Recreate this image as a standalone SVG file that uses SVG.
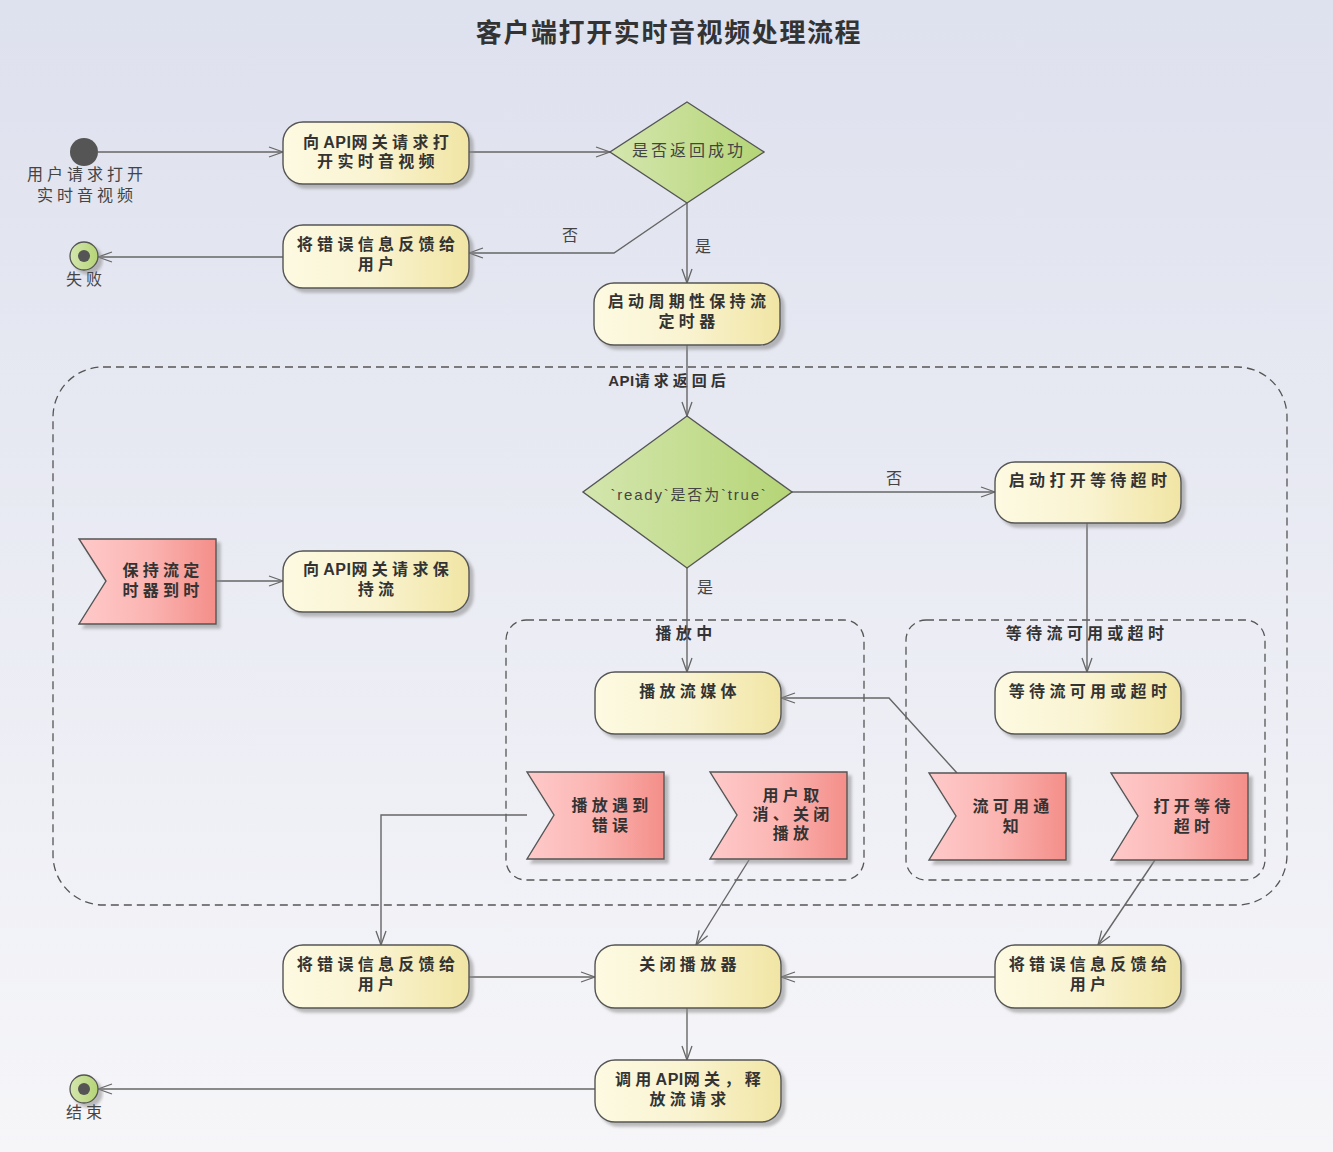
<svg xmlns="http://www.w3.org/2000/svg" width="1333" height="1152" viewBox="0 0 1333 1152">
<defs>
<linearGradient id="bg" x1="0" y1="0" x2="0" y2="1"><stop offset="0" stop-color="#dee1ee"/><stop offset="1" stop-color="#f6f6f9"/></linearGradient>
<linearGradient id="act" x1="0" y1="0" x2="1" y2="0"><stop offset="0" stop-color="#fdfae2"/><stop offset="0.5" stop-color="#f9f3d0"/><stop offset="1" stop-color="#f1e5a4"/></linearGradient>
<linearGradient id="evt" x1="0" y1="0" x2="1" y2="0"><stop offset="0" stop-color="#fecaca"/><stop offset="0.5" stop-color="#fbb5b2"/><stop offset="1" stop-color="#f48e89"/></linearGradient>
<linearGradient id="dia" x1="0" y1="0" x2="1" y2="0"><stop offset="0" stop-color="#d4e6ae"/><stop offset="1" stop-color="#b5d576"/></linearGradient>
<linearGradient id="fin" x1="0" y1="0" x2="1" y2="0"><stop offset="0" stop-color="#d4e6ae"/><stop offset="1" stop-color="#b5d576"/></linearGradient>
<filter id="sh" x="-10%" y="-10%" width="130%" height="130%"><feDropShadow dx="4" dy="4" stdDeviation="1.5" flood-color="#888" flood-opacity="0.55"/></filter>
<marker id="arr" markerWidth="16" markerHeight="12" refX="15" refY="6" orient="auto" markerUnits="userSpaceOnUse"><path d="M1,1 L15,6 L1,11" fill="none" stroke="#666" stroke-width="1.3"/></marker>
</defs>
<style>
.a{fill:url(#act);stroke:#555;stroke-width:1.4;filter:url(#sh)}
.e{fill:url(#evt);stroke:#555;stroke-width:1.4;filter:url(#sh)}
.d{fill:url(#dia);stroke:#555;stroke-width:1.4}
.g{fill:none;stroke:#555;stroke-width:1.3;stroke-dasharray:8,5}
.c{fill:none;stroke:#666;stroke-width:1.4;marker-end:url(#arr)}
.t{font-family:"Liberation Sans","Noto Sans CJK SC",sans-serif;font-size:16px;font-weight:bold;fill:#333;text-anchor:middle;letter-spacing:4.3px}
.n{font-family:"Liberation Sans","Noto Sans CJK SC",sans-serif;font-size:16px;fill:#444;text-anchor:middle;letter-spacing:4px}
.l{font-family:"Liberation Sans","Noto Sans CJK SC",sans-serif;font-size:16px;fill:#444;text-anchor:middle}
.k{letter-spacing:0.5px}
</style>
<rect width="1333" height="1152" fill="url(#bg)"/>
<text x="669" y="42" font-family="'Liberation Sans','Noto Sans CJK SC',sans-serif" font-size="26" font-weight="bold" fill="#333" text-anchor="middle" letter-spacing="1.6">客户端打开实时音视频处理流程</text>

<g id="groups">
<rect id="grp-api" class="g" x="53" y="367" width="1234" height="538" rx="50"/>
<text class="t" x="669" y="386" style="font-size:15px;letter-spacing:4px"><tspan class="k">API</tspan>请求返回后</text>
<rect id="grp-play" class="g" x="506" y="620" width="358" height="260" rx="20"/>
<text class="t" x="686" y="639">播放中</text>
<rect id="grp-wait" class="g" x="906" y="620" width="359" height="260" rx="20"/>
<text class="t" x="1087" y="639">等待流可用或超时</text>
</g>

<g id="connectors">
<line class="c" x1="98" y1="152" x2="283" y2="152"/>
<line class="c" x1="469" y1="152" x2="610" y2="152"/>
<polyline class="c" points="687,203 614,253 469,253"/>
<text class="l" x="570" y="241">否</text>
<line class="c" x1="687" y1="203" x2="687" y2="283"/>
<text class="l" x="703" y="252">是</text>
<line class="c" x1="283" y1="257" x2="98" y2="257"/>
<line class="c" x1="687" y1="345" x2="687" y2="416"/>
<line class="c" x1="792" y1="492" x2="995" y2="492"/>
<text class="l" x="894" y="484">否</text>
<line class="c" x1="687" y1="568" x2="687" y2="672"/>
<text class="l" x="705" y="593">是</text>
<line class="c" x1="216" y1="581" x2="283" y2="581"/>
<line class="c" x1="1087" y1="523" x2="1087" y2="672"/>
<polyline class="c" points="957,773 889,698 781,698"/>
<polyline class="c" points="527,815 381,815 381,945"/>
<line class="c" x1="749" y1="860" x2="696" y2="945"/>
<line class="c" x1="1155" y1="860" x2="1098" y2="945"/>
<line class="c" x1="469" y1="977" x2="595" y2="977"/>
<line class="c" x1="995" y1="977" x2="781" y2="977"/>
<line class="c" x1="687" y1="1008" x2="687" y2="1060"/>
<line class="c" x1="595" y1="1089" x2="98" y2="1089"/>
</g>

<g id="start">
<circle cx="84" cy="152" r="14" fill="#555"/>
<text class="n" x="87" y="180">用户请求打开</text>
<text class="n" x="87" y="201">实时音视频</text>
</g>
<g id="act-open">
<rect class="a" x="283" y="122" width="186" height="62" rx="20"/>
<text class="t" x="378" y="148">向<tspan class="k">API</tspan>网关请求打</text>
<text class="t" x="378" y="167">开实时音视频</text>
</g>
<g id="dec-success">
<path class="d" d="M687,102 L764,152 L687,203 L610,152 Z"/>
<text class="l" x="689" y="156" style="letter-spacing:3px">是否返回成功</text>
</g>
<g id="act-err1">
<rect class="a" x="283" y="225" width="186" height="63" rx="20"/>
<text class="t" x="378" y="250">将错误信息反馈给</text>
<text class="t" x="378" y="270">用户</text>
</g>
<g id="end-fail">
<circle cx="84" cy="256" r="14" fill="url(#fin)" stroke="#555" stroke-width="1.3" filter="url(#sh)"/>
<circle cx="84" cy="256" r="6" fill="#555"/>
<text class="l" x="86" y="285" style="letter-spacing:4px">失败</text>
</g>
<g id="act-timer">
<rect class="a" x="594" y="283" width="186" height="62" rx="20"/>
<text class="t" x="689" y="307">启动周期性保持流</text>
<text class="t" x="689" y="327">定时器</text>
</g>
<g id="dec-ready">
<path class="d" d="M687,416 L792,492 L687,568 L583,492 Z"/>
<text class="l" x="689" y="500" style="font-size:15px;letter-spacing:1.8px">`ready`是否为`true`</text>
</g>
<g id="act-waittimer">
<rect class="a" x="995" y="462" width="186" height="61" rx="20"/>
<text class="t" x="1090" y="486">启动打开等待超时</text>
</g>
<g id="evt-keep">
<path class="e" d="M79,539 L216,539 L216,624 L79,624 L106,581 Z"/>
<text class="t" x="163" y="576">保持流定</text>
<text class="t" x="163" y="596">时器到时</text>
</g>
<g id="act-keep">
<rect class="a" x="283" y="551" width="186" height="61" rx="20"/>
<text class="t" x="378" y="575">向<tspan class="k">API</tspan>网关请求保</text>
<text class="t" x="378" y="595">持流</text>
</g>
<g id="act-play">
<rect class="a" x="595" y="672" width="186" height="62" rx="20"/>
<text class="t" x="690" y="697">播放流媒体</text>
</g>
<g id="evt-playerr">
<path class="e" d="M527,772 L664,772 L664,859 L527,859 L554,815 Z"/>
<text class="t" x="612" y="811">播放遇到</text>
<text class="t" x="612" y="831">错误</text>
</g>
<g id="evt-cancel">
<path class="e" d="M710,772 L847,772 L847,859 L710,859 L737,815 Z"/>
<text class="t" x="793" y="801">用户取</text>
<text class="t" x="793" y="820">消、关闭</text>
<text class="t" x="793" y="839">播放</text>
</g>
<g id="act-wait">
<rect class="a" x="995" y="672" width="186" height="62" rx="20"/>
<text class="t" x="1090" y="697">等待流可用或超时</text>
</g>
<g id="evt-avail">
<path class="e" d="M929,773 L1066,773 L1066,860 L929,860 L956,816 Z"/>
<text class="t" x="1013" y="812">流可用通</text>
<text class="t" x="1013" y="832">知</text>
</g>
<g id="evt-timeout">
<path class="e" d="M1111,773 L1248,773 L1248,860 L1111,860 L1138,816 Z"/>
<text class="t" x="1194" y="812">打开等待</text>
<text class="t" x="1194" y="832">超时</text>
</g>
<g id="act-err2">
<rect class="a" x="283" y="945" width="186" height="63" rx="20"/>
<text class="t" x="378" y="970">将错误信息反馈给</text>
<text class="t" x="378" y="990">用户</text>
</g>
<g id="act-close">
<rect class="a" x="595" y="945" width="186" height="63" rx="20"/>
<text class="t" x="690" y="970">关闭播放器</text>
</g>
<g id="act-err3">
<rect class="a" x="995" y="945" width="186" height="63" rx="20"/>
<text class="t" x="1090" y="970">将错误信息反馈给</text>
<text class="t" x="1090" y="990">用户</text>
</g>
<g id="act-release">
<rect class="a" x="595" y="1060" width="186" height="62" rx="20"/>
<text class="t" x="690" y="1085">调用<tspan class="k">API</tspan>网关，释</text>
<text class="t" x="690" y="1105">放流请求</text>
</g>
<g id="end-done">
<circle cx="84" cy="1089" r="14" fill="url(#fin)" stroke="#555" stroke-width="1.3" filter="url(#sh)"/>
<circle cx="84" cy="1089" r="6" fill="#555"/>
<text class="l" x="86" y="1118" style="letter-spacing:4px">结束</text>
</g>
</svg>
